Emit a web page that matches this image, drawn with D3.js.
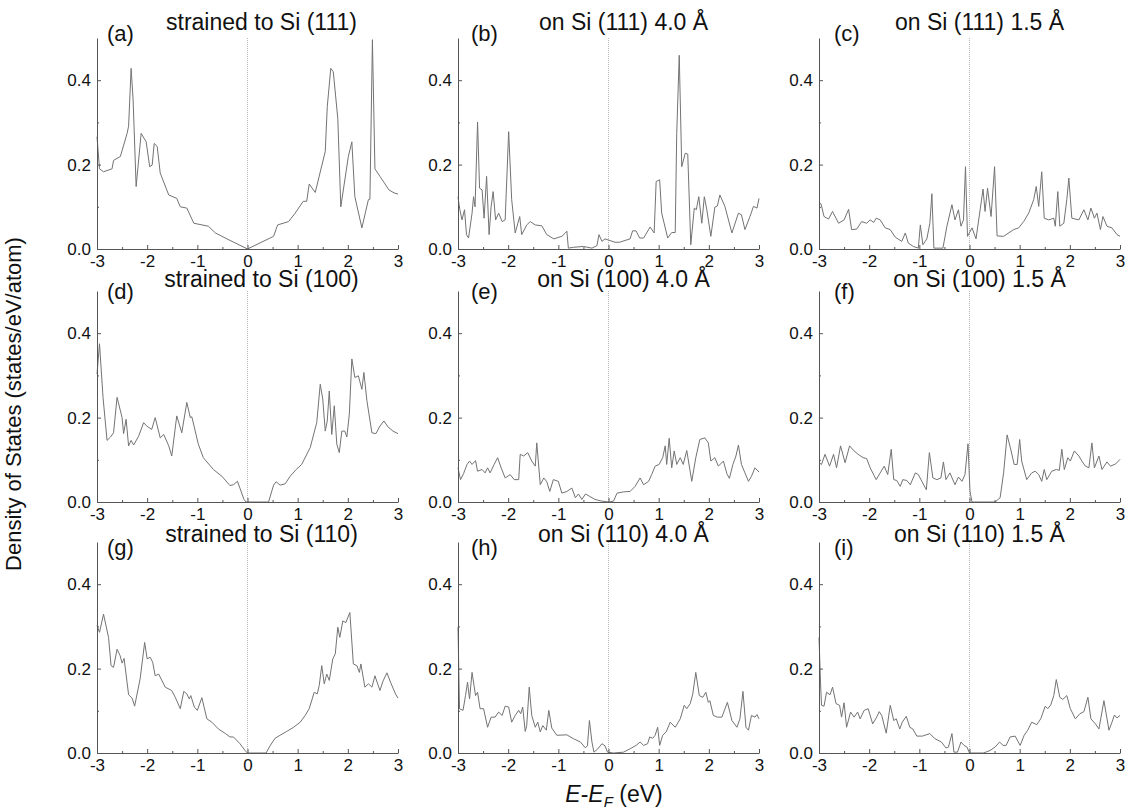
<!DOCTYPE html>
<html>
<head>
<meta charset="utf-8">
<script src="https://cdn.jsdelivr.net/npm/d3@7"></script>
<style>
  body { margin: 0; background: #fff; }
  text { font-family: "Liberation Sans", Arial, sans-serif; }
</style>
</head>
<body>
<div class="chart"></div>
<script>
// --- data: DOS curves, [E-EF (eV), DOS] ---
var dosA = [[-3,0.266],[-2.95,0.19],[-2.87,0.183],[-2.7,0.19],[-2.67,0.21],[-2.535,0.219],[-2.4,0.274],[-2.37,0.291],[-2.32,0.428],[-2.28,0.353],[-2.22,0.148],[-2.12,0.274],[-2.02,0.254],[-1.95,0.195],[-1.9,0.199],[-1.86,0.25],[-1.8,0.243],[-1.74,0.18],[-1.57,0.128],[-1.41,0.12],[-1.34,0.1],[-1.21,0.097],[-1.07,0.061],[-0.78,0.054],[-0.64,0.038],[-0.41,0.024],[0,0],[0.52,0.03],[0.6,0.057],[0.82,0.065],[0.95,0.085],[1.11,0.113],[1.18,0.113],[1.23,0.154],[1.35,0.134],[1.55,0.231],[1.59,0.337],[1.66,0.428],[1.71,0.42],[1.8,0.309],[1.86,0.1],[2.01,0.219],[2.08,0.254],[2.14,0.124],[2.28,0.05],[2.41,0.117],[2.44,0.118],[2.49,0.496],[2.54,0.19],[2.64,0.172],[2.72,0.158],[2.82,0.14],[2.92,0.133],[3,0.13]];

var dosB = [[-3,0.124],[-2.97,0.097],[-2.92,0.069],[-2.87,0.093],[-2.83,0.034],[-2.79,0.026],[-2.72,0.085],[-2.69,0.124],[-2.66,0.1],[-2.61,0.301],[-2.57,0.144],[-2.52,0.14],[-2.48,0.073],[-2.43,0.172],[-2.38,0.034],[-2.34,0.1],[-2.3,0.136],[-2.25,0.069],[-2.19,0.085],[-2.12,0.065],[-2.06,0.069],[-1.99,0.278],[-1.93,0.117],[-1.86,0.038],[-1.77,0.077],[-1.73,0.034],[-1.63,0.057],[-1.56,0.065],[-1.46,0.057],[-1.33,0.055],[-1.23,0.034],[-1.09,0.024],[-0.93,0.03],[-0.86,0.038],[-0.83,0.042],[-0.8,0.002],[-0.7,0.004],[-0.5,0.006],[-0.33,0.002],[-0.23,0.008],[-0.19,0.034],[-0.13,0.018],[-0.07,0.024],[0.03,0.02],[0.13,0.016],[0.22,0.016],[0.43,0.024],[0.48,0.043],[0.55,0.043],[0.62,0.026],[0.7,0.026],[0.83,0.052],[0.91,0.038],[0.95,0.16],[1.02,0.164],[1.06,0.085],[1.18,0.026],[1.26,0.039],[1.33,0.039],[1.36,0.274],[1.41,0.459],[1.46,0.195],[1.53,0.227],[1.58,0.225],[1.64,0.01],[1.71,0.097],[1.75,0.093],[1.8,0.124],[1.86,0.061],[1.91,0.124],[1.96,0.093],[2.04,0.03],[2.12,0.099],[2.17,0.102],[2.22,0.128],[2.32,0.101],[2.46,0.038],[2.59,0.085],[2.65,0.081],[2.72,0.046],[2.82,0.077],[2.89,0.101],[2.96,0.097],[3,0.12]];

var dosC = [[-3,0.109],[-2.96,0.107],[-2.9,0.077],[-2.81,0.071],[-2.73,0.089],[-2.61,0.061],[-2.5,0.069],[-2.41,0.094],[-2.35,0.046],[-2.25,0.047],[-2.15,0.065],[-2.05,0.061],[-1.98,0.069],[-1.91,0.063],[-1.86,0.073],[-1.78,0.069],[-1.68,0.05],[-1.58,0.046],[-1.48,0.028],[-1.35,0.018],[-1.28,0.038],[-1.22,0.014],[-1.12,0.006],[-1.02,0.002],[-0.98,0.057],[-0.93,0.01],[-0.85,0.024],[-0.79,0.061],[-0.75,0.131],[-0.71,0.002],[-0.65,0.002],[-0.53,0.002],[-0.45,0.054],[-0.35,0.105],[-0.29,0.069],[-0.22,0.093],[-0.17,0.054],[-0.12,0.069],[-0.08,0.195],[-0.04,0.03],[0.05,0.05],[0.13,0.024],[0.27,0.142],[0.31,0.089],[0.36,0.144],[0.43,0.077],[0.5,0.195],[0.55,0.031],[0.68,0.03],[0.88,0.046],[0.98,0.05],[1.08,0.065],[1.18,0.085],[1.28,0.117],[1.33,0.148],[1.38,0.101],[1.44,0.183],[1.49,0.073],[1.58,0.069],[1.68,0.073],[1.71,0.054],[1.76,0.136],[1.8,0.054],[1.88,0.061],[1.94,0.117],[1.98,0.168],[2.04,0.073],[2.18,0.069],[2.28,0.093],[2.36,0.069],[2.42,0.097],[2.49,0.073],[2.54,0.085],[2.61,0.046],[2.66,0.077],[2.74,0.054],[2.84,0.05],[2.94,0.034],[3,0.03]];

var dosD = [[-3,0.303],[-2.95,0.375],[-2.88,0.248],[-2.8,0.146],[-2.73,0.154],[-2.67,0.164],[-2.6,0.248],[-2.5,0.2],[-2.47,0.162],[-2.42,0.196],[-2.37,0.133],[-2.32,0.146],[-2.27,0.135],[-2.17,0.156],[-2.07,0.188],[-2.01,0.18],[-1.91,0.172],[-1.84,0.2],[-1.74,0.152],[-1.67,0.16],[-1.57,0.133],[-1.51,0.109],[-1.41,0.204],[-1.31,0.164],[-1.21,0.236],[-1.14,0.2],[-1.11,0.202],[-0.98,0.137],[-0.88,0.105],[-0.68,0.077],[-0.51,0.061],[-0.35,0.039],[-0.28,0.041],[-0.2,0.049],[-0.07,0.006],[-0.03,0],[0.42,0],[0.52,0.04],[0.57,0.048],[0.65,0.04],[0.75,0.043],[0.85,0.061],[0.97,0.077],[1.08,0.089],[1.25,0.129],[1.38,0.188],[1.45,0.279],[1.5,0.244],[1.55,0.168],[1.59,0.192],[1.63,0.263],[1.68,0.16],[1.73,0.228],[1.78,0.137],[1.83,0.117],[1.88,0.168],[1.94,0.168],[1.98,0.154],[2.03,0.208],[2.08,0.339],[2.14,0.295],[2.21,0.299],[2.28,0.267],[2.32,0.307],[2.38,0.24],[2.48,0.164],[2.56,0.162],[2.64,0.18],[2.72,0.192],[2.8,0.178],[2.9,0.168],[3,0.162]];

var dosE = [[-3,0.081],[-2.95,0.053],[-2.89,0.067],[-2.82,0.089],[-2.77,0.097],[-2.72,0.089],[-2.65,0.098],[-2.61,0.073],[-2.52,0.077],[-2.46,0.069],[-2.41,0.081],[-2.36,0.069],[-2.28,0.089],[-2.21,0.105],[-2.14,0.081],[-2.06,0.057],[-1.96,0.065],[-1.88,0.053],[-1.79,0.053],[-1.76,0.113],[-1.69,0.109],[-1.61,0.117],[-1.53,0.097],[-1.46,0.085],[-1.43,0.14],[-1.36,0.041],[-1.29,0.057],[-1.23,0.048],[-1.17,0.025],[-1.1,0.053],[-1,0.049],[-0.93,0.021],[-0.83,0.025],[-0.73,0.033],[-0.66,0.01],[-0.6,0.019],[-0.53,0.006],[-0.46,0.019],[-0.37,0.013],[-0.27,0.006],[-0.13,0.002],[0.01,0],[0.1,0.002],[0.17,0.021],[0.3,0.024],[0.43,0.025],[0.53,0.037],[0.63,0.057],[0.7,0.041],[0.8,0.049],[0.86,0.065],[0.93,0.085],[1.01,0.089],[1.08,0.105],[1.13,0.133],[1.16,0.089],[1.21,0.151],[1.26,0.081],[1.31,0.121],[1.36,0.089],[1.43,0.105],[1.49,0.089],[1.56,0.122],[1.66,0.049],[1.74,0.105],[1.82,0.148],[1.92,0.152],[1.99,0.14],[2.04,0.097],[2.12,0.105],[2.19,0.085],[2.29,0.097],[2.36,0.067],[2.41,0.056],[2.48,0.089],[2.54,0.109],[2.59,0.135],[2.65,0.089],[2.72,0.069],[2.79,0.049],[2.85,0.061],[2.92,0.081],[3,0.071]];

var dosF = [[-3,0.093],[-2.95,0.089],[-2.88,0.113],[-2.79,0.085],[-2.71,0.113],[-2.65,0.081],[-2.57,0.133],[-2.48,0.093],[-2.39,0.133],[-2.31,0.122],[-2.22,0.113],[-2.12,0.105],[-2.05,0.103],[-1.98,0.081],[-1.86,0.053],[-1.78,0.069],[-1.7,0.085],[-1.63,0.065],[-1.56,0.125],[-1.51,0.053],[-1.45,0.051],[-1.38,0.037],[-1.33,0.053],[-1.25,0.051],[-1.18,0.041],[-1.08,0.069],[-1.02,0.065],[-0.95,0.049],[-0.86,0.029],[-0.8,0.117],[-0.73,0.057],[-0.65,0.053],[-0.57,0.057],[-0.52,0.095],[-0.47,0.053],[-0.39,0.069],[-0.29,0.041],[-0.22,0.059],[-0.15,0.049],[-0.09,0.065],[-0.03,0.138],[0.01,0.025],[0.05,0],[0.51,0],[0.61,0.01],[0.68,0.069],[0.75,0.159],[0.83,0.121],[0.89,0.089],[0.95,0.089],[1,0.148],[1.04,0.097],[1.14,0.053],[1.24,0.069],[1.31,0.073],[1.38,0.065],[1.44,0.049],[1.49,0.077],[1.54,0.053],[1.64,0.073],[1.73,0.077],[1.79,0.075],[1.84,0.125],[1.89,0.077],[1.96,0.105],[2.01,0.097],[2.09,0.121],[2.18,0.109],[2.24,0.097],[2.31,0.085],[2.38,0.081],[2.44,0.14],[2.49,0.081],[2.58,0.109],[2.64,0.077],[2.74,0.095],[2.81,0.085],[2.91,0.09],[3,0.101]];

var dosG = [[-3,0.302],[-2.95,0.286],[-2.87,0.329],[-2.77,0.274],[-2.72,0.207],[-2.67,0.203],[-2.6,0.246],[-2.54,0.231],[-2.5,0.213],[-2.46,0.224],[-2.37,0.138],[-2.3,0.13],[-2.25,0.111],[-2.14,0.176],[-2.05,0.262],[-2,0.223],[-1.94,0.227],[-1.89,0.215],[-1.84,0.183],[-1.77,0.187],[-1.64,0.156],[-1.51,0.148],[-1.44,0.132],[-1.34,0.105],[-1.27,0.146],[-1.21,0.14],[-1.16,0.128],[-1.13,0.136],[-1.06,0.109],[-1,0.101],[-0.91,0.131],[-0.81,0.081],[-0.71,0.073],[-0.58,0.057],[-0.44,0.046],[-0.35,0.038],[-0.28,0.038],[-0.15,0.022],[-0.05,0.006],[0,0],[0.37,0],[0.45,0.017],[0.55,0.035],[0.65,0.042],[0.78,0.051],[0.92,0.061],[1.05,0.073],[1.15,0.089],[1.23,0.105],[1.33,0.144],[1.39,0.14],[1.43,0.16],[1.48,0.207],[1.53,0.164],[1.58,0.187],[1.63,0.172],[1.7,0.223],[1.75,0.235],[1.8,0.298],[1.84,0.274],[1.9,0.313],[1.96,0.309],[2.04,0.333],[2.11,0.211],[2.18,0.207],[2.23,0.191],[2.26,0.211],[2.34,0.156],[2.41,0.164],[2.48,0.156],[2.54,0.183],[2.64,0.148],[2.7,0.17],[2.78,0.19],[2.85,0.168],[2.95,0.14],[3,0.13]];

var dosH = [[-3,0.298],[-2.97,0.105],[-2.9,0.101],[-2.85,0.136],[-2.81,0.168],[-2.77,0.128],[-2.72,0.191],[-2.65,0.136],[-2.61,0.144],[-2.56,0.105],[-2.49,0.105],[-2.41,0.061],[-2.34,0.085],[-2.26,0.085],[-2.19,0.097],[-2.12,0.089],[-2.06,0.111],[-1.99,0.109],[-1.93,0.073],[-1.86,0.089],[-1.79,0.101],[-1.75,0.093],[-1.71,0.109],[-1.66,0.051],[-1.63,0.065],[-1.58,0.156],[-1.53,0.089],[-1.46,0.061],[-1.41,0.073],[-1.36,0.05],[-1.31,0.065],[-1.24,0.054],[-1.19,0.101],[-1.13,0.059],[-1.03,0.042],[-0.83,0.043],[-0.7,0.034],[-0.56,0.026],[-0.46,0.012],[-0.42,0.017],[-0.38,0.077],[-0.33,0.026],[-0.29,0.002],[-0.22,0.009],[-0.13,0.022],[-0.07,0.017],[-0.02,0.002],[0.1,0],[0.3,0.002],[0.43,0.01],[0.55,0.018],[0.63,0.026],[0.7,0.018],[0.78,0.022],[0.82,0.038],[0.88,0.035],[0.93,0.042],[0.98,0.061],[1.02,0.018],[1.08,0.042],[1.15,0.05],[1.23,0.073],[1.33,0.061],[1.43,0.081],[1.51,0.113],[1.56,0.105],[1.63,0.117],[1.68,0.14],[1.74,0.191],[1.81,0.136],[1.88,0.132],[1.94,0.144],[1.99,0.12],[2.02,0.124],[2.09,0.089],[2.17,0.085],[2.26,0.085],[2.37,0.12],[2.46,0.077],[2.56,0.061],[2.62,0.081],[2.68,0.146],[2.74,0.061],[2.79,0.054],[2.85,0.089],[2.92,0.085],[2.96,0.091],[3,0.081]];

var dosI = [[-3,0.274],[-2.97,0.168],[-2.95,0.113],[-2.9,0.111],[-2.85,0.144],[-2.78,0.138],[-2.73,0.156],[-2.66,0.117],[-2.59,0.113],[-2.55,0.085],[-2.5,0.119],[-2.45,0.061],[-2.37,0.097],[-2.3,0.085],[-2.23,0.097],[-2.18,0.081],[-2.1,0.101],[-2.02,0.105],[-1.93,0.069],[-1.85,0.085],[-1.8,0.098],[-1.75,0.089],[-1.66,0.047],[-1.58,0.113],[-1.51,0.077],[-1.46,0.081],[-1.39,0.057],[-1.34,0.073],[-1.26,0.087],[-1.19,0.061],[-1.13,0.057],[-1.05,0.04],[-0.94,0.04],[-0.79,0.046],[-0.69,0.034],[-0.56,0.026],[-0.47,0.012],[-0.42,0.014],[-0.35,0.046],[-0.31,0.002],[-0.24,0.002],[-0.17,0.026],[-0.11,0.018],[-0.05,0.014],[0,0],[0.15,0],[0.28,0],[0.41,0.006],[0.51,0.014],[0.6,0.026],[0.67,0.018],[0.73,0.018],[0.81,0.038],[0.91,0.04],[1.01,0.018],[1.09,0.042],[1.16,0.054],[1.24,0.073],[1.34,0.067],[1.42,0.081],[1.51,0.111],[1.56,0.105],[1.62,0.114],[1.68,0.136],[1.73,0.174],[1.8,0.132],[1.86,0.127],[1.94,0.136],[2.01,0.105],[2.11,0.081],[2.2,0.093],[2.28,0.098],[2.36,0.132],[2.42,0.081],[2.51,0.069],[2.58,0.057],[2.68,0.124],[2.78,0.054],[2.84,0.073],[2.89,0.09],[2.94,0.083],[3,0.089]];

var panelData = [dosA, dosB, dosC, dosD, dosE, dosF, dosG, dosH, dosI];
var panelLetters = ["(a)", "(b)", "(c)", "(d)", "(e)", "(f)", "(g)", "(h)", "(i)"];
var panelTitles = ["strained to Si (111)", "on Si (111) 4.0 Å", "on Si (111) 1.5 Å",
                   "strained to Si (100)", "on Si (100) 4.0 Å", "on Si (100) 1.5 Å",
                   "strained to Si (110)", "on Si (110) 4.0 Å", "on Si (110) 1.5 Å"];
var xTicks = [-3, -2, -1, 0, 1, 2, 3];
var xMinorTicks = [-2.5, -1.5, -0.5, 0.5, 1.5, 2.5];
var yTicks = [0, 0.2, 0.4];
var yMinorTicks = [0.1, 0.3];

// --- layout ---
var W = 1127, H = 809;
var colLeft = [97, 458, 819];
var rowTop = [38, 291, 542];
var pw = 301, ph = 211;
var titleDx = [14, 15, 10];        // title centre offset from panel centre
var titleBase = [30, 287, 542];    // title baselines per row
var letterDx = [10, 13, 15];
var letterBase = [41, 299, 555];

var svg = d3.select(".chart").append("svg")
            .attr("width", W).attr("height", H);

var x = d3.scaleLinear().domain([-3, 3]).range([0, pw]);
var y = d3.scaleLinear().domain([0, 0.5]).range([ph, 0]);

var line = d3.line()
             .x(function(d){ return x(d[0]); })
             .y(function(d){ return y(d[1]); });

panelData.forEach(function(data, i){
    var r = Math.floor(i / 3), c = i % 3;
    var g = svg.append("g")
               .attr("transform", "translate(" + colLeft[c] + "," + rowTop[r] + ")");

    // dotted Fermi level
    g.append("line")
     .attr("x1", x(0)).attr("x2", x(0))
     .attr("y1", y(0)).attr("y2", y(0.5))
     .attr("stroke", "#b5b5b5")
     .attr("stroke-width", 1)
     .attr("stroke-dasharray", "1,1");

    // curve
    g.append("path").datum(data)
     .attr("d", line)
     .attr("fill", "none")
     .attr("stroke", "#737373")
     .attr("stroke-width", 1)
     .attr("stroke-linejoin", "round");

    // X axis, ticks pointing inward (plain hyphen for negatives)
    var xAxisG = g.append("g").attr("class", "x axis")
                  .attr("transform", "translate(0," + ph + ")");
    xAxisG.call(d3.axisBottom(x).tickValues(xTicks).tickSize(-4).tickSizeOuter(0)
                .tickPadding(6).tickFormat(function(d){ return String(d); }));
    g.append("g").attr("transform", "translate(0," + ph + ")")
     .call(d3.axisBottom(x).tickValues(xMinorTicks).tickSize(-2).tickSizeOuter(0).tickFormat(""))
     .select(".domain").remove();

    // Y axis
    var yAxisG = g.append("g").attr("class", "y axis");
    yAxisG.call(d3.axisLeft(y).tickValues(yTicks).tickSize(-4).tickSizeOuter(0)
                .tickPadding(6).tickFormat(function(d){ return d.toFixed(1); }));
    g.append("g")
     .call(d3.axisLeft(y).tickValues(yMinorTicks).tickSize(-2).tickSizeOuter(0).tickFormat(""))
     .select(".domain").remove();

    g.selectAll(".tick line").attr("stroke", "#555");
    g.selectAll(".domain").attr("stroke", "#555");
    g.selectAll(".tick text")
     .attr("font-size", "17px")
     .attr("font-family", "Liberation Sans, Arial, sans-serif")
     .attr("fill", "#111");

    // title and panel letter
    svg.append("text")
       .attr("x", colLeft[c] + pw / 2 + titleDx[c])
       .attr("y", titleBase[r])
       .attr("text-anchor", "middle")
       .attr("font-size", "23px")
       .attr("fill", "#111")
       .text(panelTitles[i]);

    svg.append("text")
       .attr("x", colLeft[c] + letterDx[c])
       .attr("y", letterBase[r])
       .attr("font-size", "22px")
       .attr("fill", "#111")
       .text(panelLetters[i]);
});

// Y label
svg.append("text")
   .attr("transform", "translate(21,404) rotate(-90)")
   .attr("text-anchor", "middle")
   .attr("font-size", "22px")
   .attr("fill", "#111")
   .text("Density of States (states/eV/atom)");

// X label: E-E_F (eV)
var xl = svg.append("text")
            .attr("x", 614).attr("y", 802)
            .attr("text-anchor", "middle")
            .attr("font-size", "23px")
            .attr("fill", "#111");
xl.append("tspan").attr("font-style", "italic").text("E");
xl.append("tspan").text("-");
xl.append("tspan").attr("font-style", "italic").text("E");
xl.append("tspan").attr("font-style", "italic").attr("font-size", "15px")
  .attr("dy", "5").text("F");
xl.append("tspan").attr("dy", "-5").text(" (eV)");
</script>
</body>
</html>
